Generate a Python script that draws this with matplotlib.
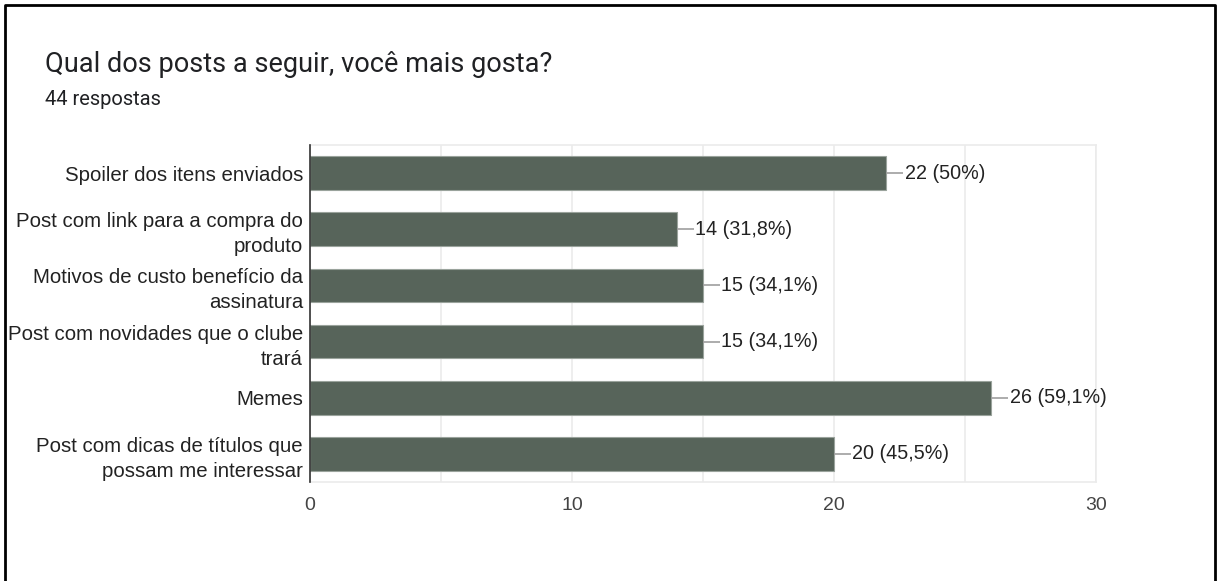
import matplotlib
matplotlib.use("Agg")
import matplotlib.pyplot as plt
from matplotlib.lines import Line2D

title = "Qual dos posts a seguir, você mais gosta?"
subtitle = "44 respostas"
total = 44

categories = [
    "Spoiler dos itens enviados",
    "Post com link para a compra do\nproduto",
    "Motivos de custo benefício da\nassinatura",
    "Post com novidades que o clube\ntrará",
    "Memes",
    "Post com dicas de títulos que\npossam me interessar",
]
counts = [22, 14, 15, 15, 26, 20]
xticks = [0, 10, 20, 30]

bar_color = "#57645a"
text_color = "#222222"


def pct_label(v):
    p = round(v / total * 100, 1)
    s = f"{p:.1f}".rstrip("0").rstrip(".").replace(".", ",")
    return f"{v} ({s}%)"


fig = plt.figure(figsize=(12.19, 5.81), dpi=100)
ax = fig.add_axes([310 / 1219, 1 - 482 / 581, (1096 - 310) / 1219, (482 - 145) / 581])

ypos = list(range(len(categories)))
ax.barh(ypos, counts, height=0.6, color=bar_color, edgecolor="#9aa39c",
        linewidth=0.8, zorder=3)

# leader line + value label at the end of each bar
for y, v in zip(ypos, counts):
    ax.plot([v, v + 0.65], [y, y], color="#9e9e9e", lw=1.2, zorder=3,
            solid_capstyle="butt")
    ax.text(v + 0.7, y, pct_label(v), va="center", ha="left",
            fontsize=14.2, color=text_color, family="Liberation Sans")

ax.set_xlim(0, 30)
ax.set_ylim(len(categories) - 0.5, -0.5)
ax.set_xticks(xticks)
ax.set_xticks(range(0, 31, 5), minor=True)
ax.set_yticks(ypos)
ax.set_yticklabels(categories, fontsize=14.7, family="Liberation Sans",
                   color=text_color, linespacing=1.4)
for lab in ax.get_xticklabels():
    lab.set_family("Liberation Sans")
ax.tick_params(axis="x", which="both", length=0, pad=11, labelsize=14,
               labelcolor="#444444")
ax.tick_params(axis="y", length=0, pad=5)

ax.grid(axis="x", which="both", color="#ebebeb", lw=1.2, zorder=0)
ax.set_axisbelow(True)
for side in ["top", "right", "bottom"]:
    ax.spines[side].set_color("#ebebeb")
    ax.spines[side].set_linewidth(1.2)
ax.spines["left"].set_color("#333333")
ax.spines["left"].set_linewidth(1.2)
ax.spines["left"].set_zorder(4)

fig.text(45 / 1219, 1 - 72 / 581, title, fontsize=19.5, family="Roboto",
         color="#202124", va="baseline", ha="left")
fig.text(45 / 1219, 1 - 105 / 581, subtitle, fontsize=14.5, family="Roboto",
         color="#202124", va="baseline", ha="left")

# frame around the card (bottom edge runs off the image)
x0, x1, y0 = 5 / 1219, 1215 / 1219, 1 - 5 / 581
fig.add_artist(Line2D([x0, x0, x1, x1], [-0.05, y0, y0, -0.05],
                      transform=fig.transFigure, color="black", lw=2))

fig.savefig("out.png", dpi=100)
